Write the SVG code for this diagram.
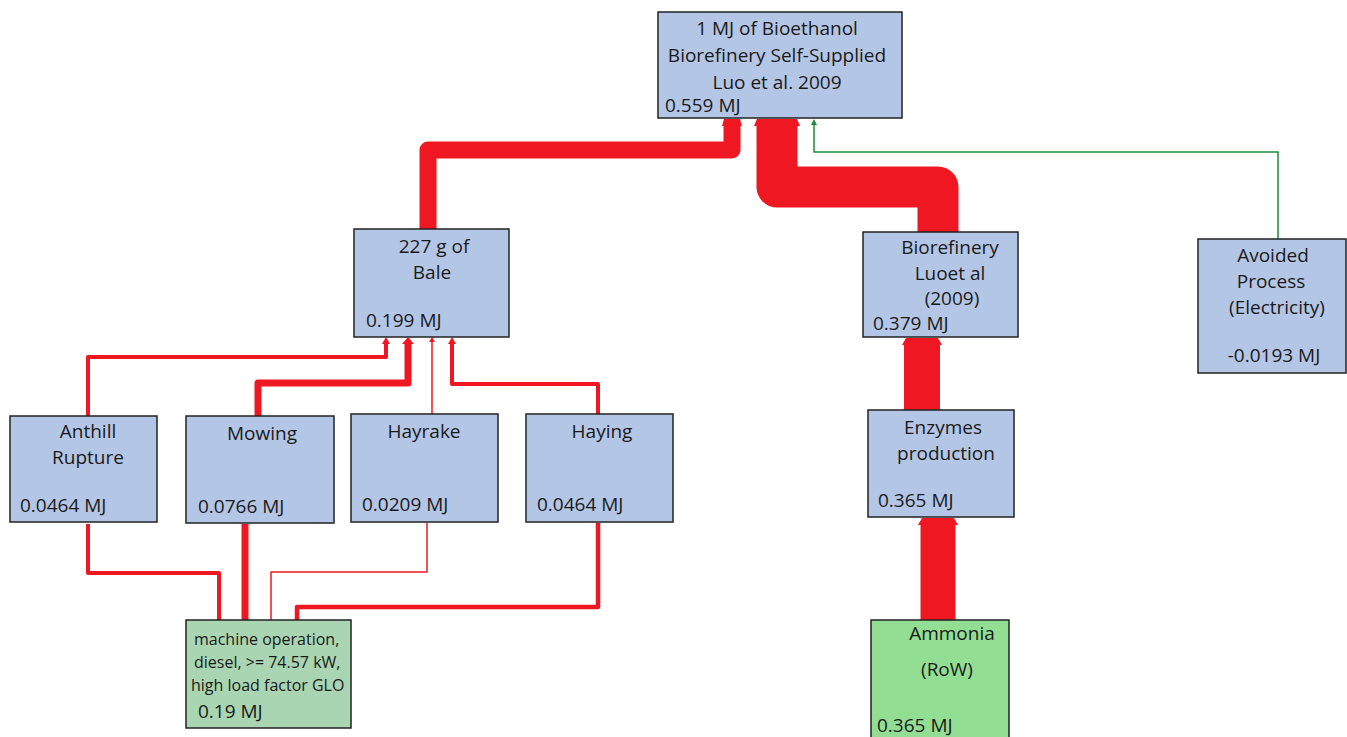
<svg xmlns="http://www.w3.org/2000/svg" width="1347" height="737" viewBox="0 0 1347 737">
<style>
.box{fill:#b4c6e6;stroke:#222;stroke-width:1.5}
.gbox{fill:#a9d5b3;stroke:#222;stroke-width:1.5}
.abox{fill:#92df94;stroke:#222;stroke-width:1.5}
text{font-family:"Open Sans","Noto Sans",sans-serif;font-size:19px;fill:#1a1a1a}
.c{text-anchor:middle}
.sm{font-size:16px}
.r{fill:none;stroke:#ef1822;stroke-linejoin:round}
.g{fill:none;stroke:#1f8a3c;stroke-width:1.5}
.ah{fill:#ef1822}
</style>
<rect width="1347" height="737" fill="#fff"/>
<g id="connectors">
<path class="r" d="M428,229 V150 H732 V124" stroke-width="17"/>
<path class="ah" d="M722,126 L742,126 L740,119 L724,119 Z"/>
<path class="r" d="M938,232 V187 H777 V124" stroke-width="41"/>
<path class="ah" d="M754,126 L800,126 L797,119 L757,119 Z"/>
<path class="g" d="M1278,239 V152 H814 V124"/>
<path fill="#1f8a3c" d="M811,125 L817,125 L814,119 Z"/>
<path class="r" d="M922,410 V344" stroke-width="36"/>
<path class="ah" d="M902,345 L942,345 L938,338 L906,338 Z"/>
<path class="r" d="M938,620 V524" stroke-width="35"/>
<path class="ah" d="M918,525 L958,525 L954,518 L922,518 Z"/>
<path class="r" d="M88,416 V357 H386 V342" stroke-width="4"/>
<path class="ah" d="M382,344 L390,344 L386,337 Z"/>
<path class="r" d="M258,416 V383 H408 V342" stroke-width="7"/>
<path class="ah" d="M402,344 L414,344 L408,337 Z"/>
<path class="r" d="M432,414 V340" stroke-width="1.5"/>
<path class="ah" d="M429,342 L435,342 L432,337 Z"/>
<path class="r" d="M598,414 V384 H452 V342" stroke-width="4"/>
<path class="ah" d="M448,344 L456,344 L452,337 Z"/>
<path class="r" d="M219,620 V573 H88 V524" stroke-width="4"/>
<path class="r" d="M245,620 V524" stroke-width="7"/>
<path class="r" d="M271,620 V572 H427 V523" stroke-width="1.5"/>
<path class="r" d="M297,620 V607 H598 V523" stroke-width="4.5"/>
</g>
<g id="top">
<rect class="box" x="658" y="12" width="244" height="106"/>
<text class="c" x="777" y="35">1 MJ of Bioethanol</text>
<text class="c" x="777" y="62">Biorefinery Self-Supplied</text>
<text class="c" x="777" y="89">Luo et al. 2009</text>
<text x="665" y="112">0.559 MJ</text>
</g>
<g id="bale">
<rect class="box" x="354" y="229" width="155" height="108"/>
<text class="c" x="434" y="253">227 g of</text>
<text class="c" x="432" y="279">Bale</text>
<text x="366" y="327">0.199 MJ</text>
</g>
<g id="biorefinery">
<rect class="box" x="863" y="232" width="155" height="105"/>
<text class="c" x="950" y="254">Biorefinery</text>
<text class="c" x="950" y="280">Luoet al</text>
<text class="c" x="952" y="305">(2009)</text>
<text x="873" y="330">0.379 MJ</text>
</g>
<g id="avoided">
<rect class="box" x="1198" y="239" width="148" height="134"/>
<text class="c" x="1273" y="262">Avoided</text>
<text class="c" x="1271" y="288">Process</text>
<text class="c" x="1277" y="314">(Electricity)</text>
<text class="c" x="1274" y="362">-0.0193 MJ</text>
</g>
<g id="anthill">
<rect class="box" x="10" y="416" width="147" height="106"/>
<text class="c" x="88" y="438">Anthill</text>
<text class="c" x="88" y="464">Rupture</text>
<text x="20" y="512">0.0464 MJ</text>
</g>
<g id="mowing">
<rect class="box" x="186" y="416" width="148" height="107"/>
<text class="c" x="262" y="440">Mowing</text>
<text x="198" y="513">0.0766 MJ</text>
</g>
<g id="hayrake">
<rect class="box" x="351" y="414" width="147" height="108"/>
<text class="c" x="424" y="438">Hayrake</text>
<text x="362" y="511">0.0209 MJ</text>
</g>
<g id="haying">
<rect class="box" x="526" y="414" width="147" height="108"/>
<text class="c" x="602" y="438">Haying</text>
<text x="537" y="511">0.0464 MJ</text>
</g>
<g id="enzymes">
<rect class="box" x="868" y="410" width="146" height="107"/>
<text class="c" x="943" y="434">Enzymes</text>
<text class="c" x="946" y="460">production</text>
<text x="878" y="507">0.365 MJ</text>
</g>
<g id="machine">
<rect class="gbox" x="186" y="620" width="165" height="108"/>
<text class="sm" x="194" y="645">machine operation,</text>
<text class="sm" x="194" y="668">diesel, &gt;= 74.57 kW,</text>
<text class="sm" x="191" y="691">high load factor GLO</text>
<text x="198" y="718">0.19 MJ</text>
</g>
<g id="ammonia">
<rect class="abox" x="871" y="620" width="138" height="130"/>
<text class="c" x="952" y="640">Ammonia</text>
<text class="c" x="947" y="676">(RoW)</text>
<text x="877" y="732">0.365 MJ</text>
</g>
</svg>
